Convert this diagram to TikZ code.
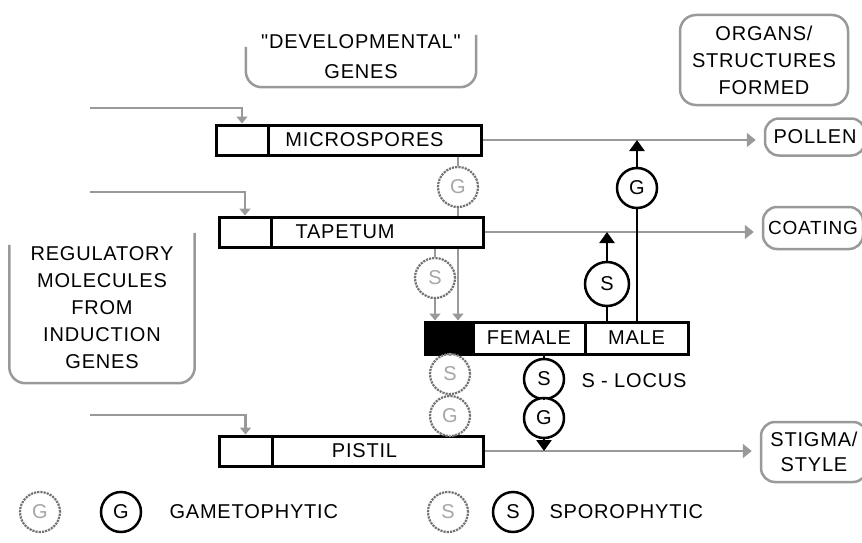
\documentclass[tikz,border=0pt]{standalone}
\usepackage{fontspec}
\setmainfont{Liberation Sans}[LetterSpace=4, Ligatures=TeXOff]
\usetikzlibrary{arrows.meta}

\tikzset{
  organbox/.style={draw, line width=3pt, fill=white, minimum height=30, inner sep=0pt},
  gline/.style={draw=black!40, line width=2.5pt},
  garrow/.style={gline, -{Triangle[length=9pt,width=14pt]}, shorten >=8pt},
  gtip/.style={gline, -{Triangle[length=7pt,width=11pt]}},
  gcirc/.style={circle, draw=black!55, densely dotted, line width=2.2pt, text=black!35, fill=white, minimum size=40, inner sep=0pt},
  bcirc/.style={circle, draw, line width=2.5pt, fill=white, minimum size=40, inner sep=0pt},
  bline/.style={draw, line width=2.5pt},
  barrow/.style={bline, -{Triangle[length=11pt,width=15pt]}},
  notebox/.style={gline, rounded corners=16},
}

\begin{document}
\begin{tikzpicture}[x=1pt, y=-1pt, font=\fontsize{20}{27}\selectfont]

      \useasboundingbox (0,0) rectangle (862,543);

      % gene boxes and the S-locus
      \begin{scope}[every node/.style={organbox}]
        \node[minimum width=52]  (microL) at (242,140)   {};
        \node[minimum width=213] (micro)  at (374.5,140) {MICROSPORES\hspace*{20pt}};
        \node[minimum width=52]  (tapL)   at (245,232)   {};
        \node[minimum width=212] (tap)    at (377,232)   {TAPETUM\hspace*{64pt}};
        \node[minimum width=53]  (pistL)  at (245.5,451) {};
        \node[minimum width=211] (pist)   at (377.5,451) {PISTIL\hspace*{26pt}};
        \node[minimum width=48, minimum height=32, fill=black] (sblack) at (449,338) {};
        \node[minimum width=112, minimum height=32] (female) at (529,338)   {FEMALE};
        \node[minimum width=103, minimum height=32] (male)   at (636.5,338) {MALE};
      \end{scope}

      % notes
      \begin{scope}[every node/.style={align=center}]
        \node[minimum width=230, minimum height=60] (dev) at (361,57) {"DEVELOPMENTAL"\\[3pt]GENES};
        \node[notebox, minimum width=168, minimum height=90] (organs) at (764,60) {ORGANS/\\STRUCTURES\\FORMED};
        \node[minimum width=185, minimum height=150] (reg) at (102,308) {REGULATORY\\MOLECULES\\FROM\\INDUCTION\\GENES};
        \node[notebox, rounded corners=14, minimum width=100, minimum height=37] (pollen) at (815,137) {POLLEN};
        \node[notebox, rounded corners=14, minimum width=100, minimum height=42, font=\fontsize{19}{27}\selectfont] (coating) at (813,228) {COATING};
        \node[notebox, rounded corners=14, minimum width=106, minimum height=60, font=\fontsize{20}{25}\selectfont] (stigma) at (814,452) {STIGMA/\\STYLE};
      \end{scope}
      \draw[notebox] ([yshift=-20pt]dev.north west) -- (dev.south west) -- (dev.south east) -- ([yshift=-8pt]dev.north east);
      \draw[notebox] ([yshift=-12pt]reg.north west) -- (reg.south west) -- (reg.south east) -- (reg.north east);

      % circles
      \begin{scope}[every node/.style={gcirc}]
        \node (gG1) at (458,187) {G};
        \node (gS1) at (435,278) {S};
        \node (gS2) at (450,374) {S};
        \node (gG2) at (450,416) {G};
        \node (lgG) at (40,512)  {G};
        \node (lgS) at (448,512) {S};
      \end{scope}
      \begin{scope}[every node/.style={bcirc}]
        \node (bG1) at (637,188) {G};
        \node[minimum size=44] (bS1) at (607,284) {S};
        \node (bS2) at (544,379) {S};
        \node (bG2) at (544,418) {G};
        \node (lbG) at (121,512) {G};
        \node (lbS) at (513,512) {S};
      \end{scope}

      \node[anchor=west] (slocus) at (578,381) {S - LOCUS};
      \node[anchor=west] (gameto) at (166,512) {GAMETOPHYTIC};
      \node[anchor=west] (sporo)  at (546,512) {SPOROPHYTIC};

      % inputs from the left
      \coordinate (in1) at (90,108);
      \coordinate (in2) at (90,192);
      \coordinate (in3) at (90,415);
      \draw[gtip] (in1) -| (microL.north);
      \draw[gtip] (in2) -| (tapL.north);
      \draw[gtip] (in3) -| (pistL.north);

      % grey links
      \path (micro.east) edge[garrow] (micro.east -| pollen.west);
      \path (tap.east)   edge[garrow] (tap.east -| coating.west);
      \path (pist.east)  edge[garrow] (pist.east -| stigma.west);
      \path (micro.south -| gG1) edge[gline] (gG1);
      \path (gG1) edge[gline] (tap.north -| gG1);
      \path (tap.south -| gG1) edge[gtip] (sblack.north -| gG1);
      \path (tap.south -| gS1) edge[gline] (gS1);
      \path (gS1) edge[gtip] (sblack.north -| gS1);
      \path (sblack.south -| gS2) edge[gline] (gS2);
      \path (gS2) edge[gline] (gG2);
      \path (gG2) edge[gline] (pist.north -| gG2);

      % black links
      \path (male.north -| bS1) edge[bline] (bS1);
      \path (bS1) edge[barrow] (bS1 |- tap.east);
      \path (male.north -| bG1) edge[bline] (bG1);
      \path (bG1) edge[barrow] (bG1 |- micro.east);
      \path (female.south -| bS2) edge[bline] (bS2);
      \path (bS2) edge[bline] (bG2);
      \path (bG2) edge[barrow] (bG2 |- pist.east);

    \end{tikzpicture}
\end{document}
